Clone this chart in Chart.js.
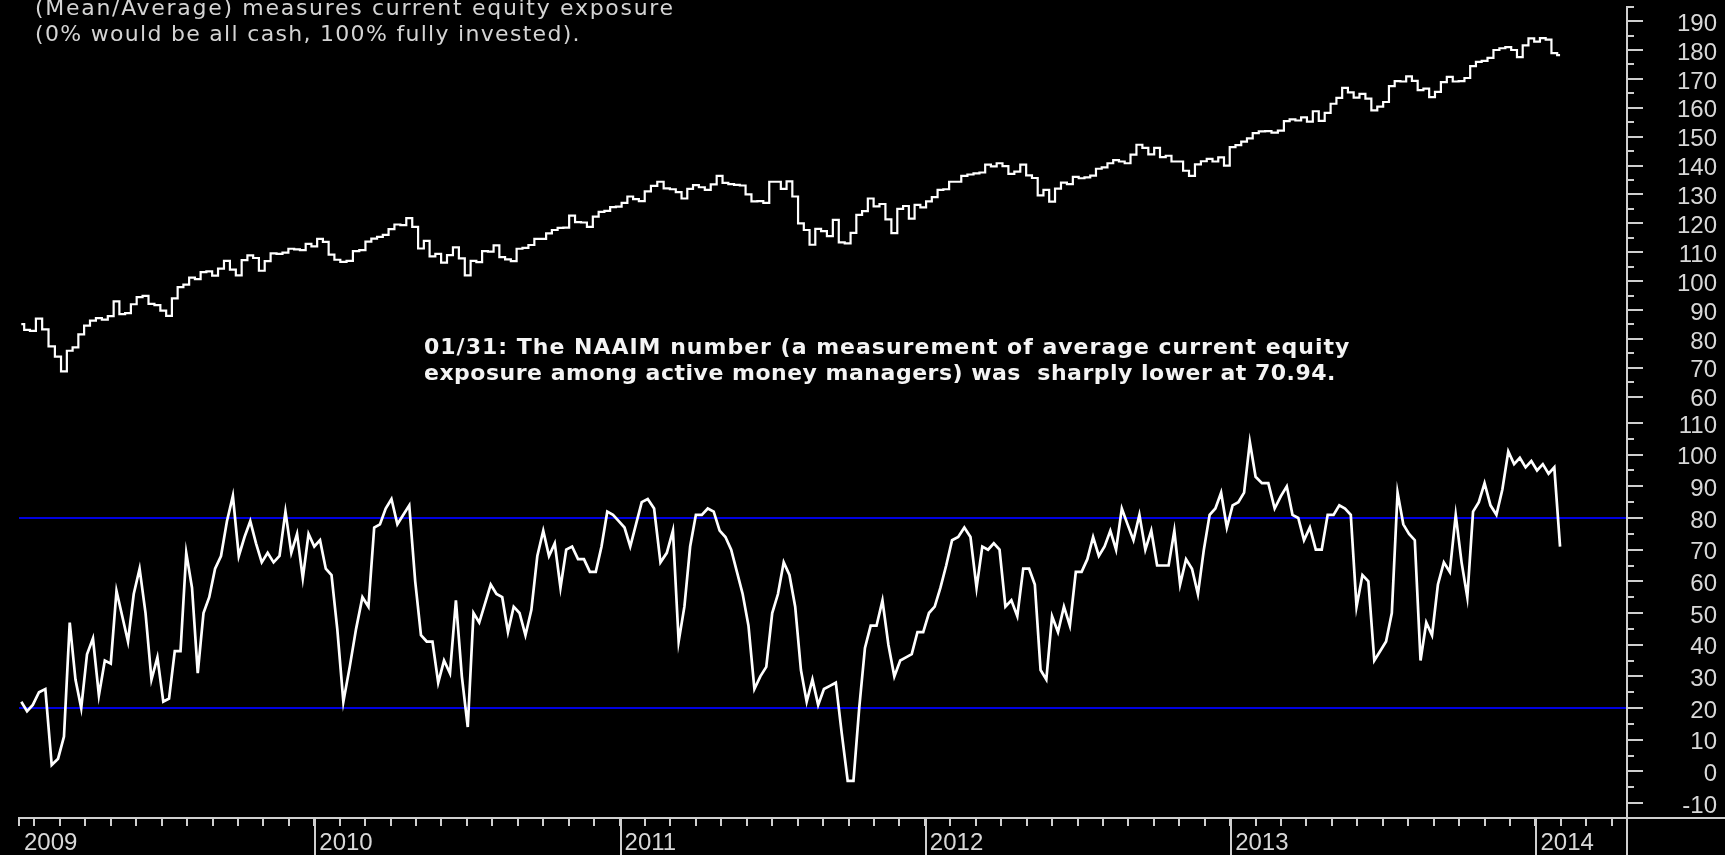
<!DOCTYPE html>
<html>
<head>
<meta charset="utf-8">
<title>NAAIM Exposure Index vs. SPY</title>
<script src="https://cdn.jsdelivr.net/npm/chart.js@4.4.1/dist/chart.umd.min.js"></script>
<style>
  html, body { margin: 0; padding: 0; background: #000; }
  #wrap { position: relative; width: 1725px; height: 855px; }
</style>
</head>
<body>
<div id="wrap"><canvas id="chart" width="1725" height="855"></canvas></div>
<script>
// ---- data -------------------------------------------------------------
// Weekly observations, one per Friday starting from this date.
const firstWeek = '2009-01-16';

// S&P 500 ETF weekly closes (upper panel).
const spyClose = [
  85.1, 83.1, 82.8, 87.0, 83.3, 77.4, 73.9, 68.8, 75.9, 77.1,
  81.6, 84.6, 86.3, 87.2, 86.7, 87.9, 93.0, 88.6, 88.9, 92.0,
  94.5, 94.9, 92.1, 91.7, 89.8, 88.0, 94.0, 97.9, 98.8, 101.2,
  100.7, 103.1, 103.4, 101.9, 104.3, 107.0, 104.0, 102.0, 107.3, 108.9,
  108.0, 103.6, 106.9, 109.6, 109.4, 109.9, 111.2, 111.0, 110.7, 112.9,
  112.0,
  114.6, 113.6, 109.2, 107.4, 106.7, 107.0, 110.4, 110.7, 113.7, 114.7,
  115.3, 116.0, 118.0, 119.6, 119.4, 121.8, 118.8, 111.3, 113.9, 108.6,
  109.4, 106.4, 109.0, 111.7, 107.9, 102.0, 107.0, 106.6, 110.4, 110.2,
  112.4, 108.3, 107.5, 106.9, 111.2, 111.5, 112.5, 114.6, 114.6, 116.5,
  117.7, 118.4, 118.5, 122.7, 120.4, 120.3, 118.8, 122.3, 124.0, 124.3,
  125.6, 125.8,
  127.1, 129.3, 128.4, 127.7, 131.1, 133.0, 134.4, 132.1, 131.8, 130.8,
  128.6, 131.9, 133.2, 132.5, 131.6, 133.5, 136.4, 134.0, 133.6, 133.3,
  133.1, 130.0, 127.6, 127.7, 127.1, 134.4, 134.4, 131.9, 134.5, 129.3,
  120.0, 117.7, 112.6, 118.1, 117.3, 115.6, 121.2, 113.4, 113.1, 116.7,
  122.9, 124.2, 128.6, 125.9, 126.7, 121.4, 116.6, 125.0, 126.0, 121.6,
  126.4, 125.5,
  127.6, 129.1, 131.6, 131.8, 134.4, 134.4, 136.4, 136.9, 137.3, 137.6,
  140.3, 139.7, 140.8, 139.8, 137.1, 137.9, 140.3, 136.6, 135.7, 129.7,
  131.6, 127.5, 132.0, 134.1, 133.6, 136.1, 135.6, 135.9, 136.5, 138.9,
  139.4, 140.8, 141.9, 141.4, 140.8, 143.8, 147.2, 146.1, 143.9, 146.1,
  142.9, 143.4, 141.4, 141.4, 138.2, 136.4, 140.4, 141.5, 142.3, 141.4,
  142.8, 140.0,
  146.4, 147.1, 148.3, 149.4, 151.2, 151.8, 151.9, 151.4, 152.1, 155.4,
  156.0, 155.6, 156.7, 155.2, 158.8, 155.5, 158.2, 161.4, 163.4, 166.9,
  165.3, 163.5, 164.8, 163.2, 159.1, 160.4, 162.0, 167.5, 169.2, 169.1,
  170.9, 169.3, 166.1, 166.6, 163.7, 165.5, 168.9, 170.7, 169.1, 169.2,
  170.3, 174.4, 175.9, 176.2, 177.3, 180.0, 180.6, 181.0, 180.0, 177.5,
  181.6, 184.0,
  182.9, 184.1, 183.6, 178.9, 178.2
];

// NAAIM Exposure Index, weekly (lower panel).
const naaim = [
  22, 19, 21, 25, 26, 2, 4, 11, 47, 29,
  20, 37, 42, 24, 35, 34, 57, 49, 41, 56,
  64, 50, 29, 36, 22, 23, 38, 38, 69, 58,
  31, 50, 55, 64, 68, 79, 87, 68, 74, 79,
  72, 66, 69, 66, 68, 82, 69, 75, 61, 75,
  71, 73, 64, 62, 45, 22, 33, 45, 55, 52,
  77, 78, 83, 86, 78, 81, 84, 60, 43, 41,
  41, 28, 35, 31, 54, 30, 14, 50, 47, 53,
  59, 56, 55, 44, 52, 50, 43, 51, 68, 76,
  68, 72, 58, 70, 71, 67, 67, 63, 63, 71,
  82, 81, 79, 77, 71, 78, 85, 86, 83, 66,
  69, 76, 41, 52, 71, 81, 81, 83, 82, 76,
  74, 70, 63, 56, 46, 26, 30, 33, 50, 56,
  66, 62, 52, 32, 22, 29, 21, 26, 27, 28,
  12, -3, -3, 20, 39, 46, 46, 54, 40, 30,
  35, 36, 37, 44, 44, 50, 52, 58, 65, 73,
  74, 77, 74, 58, 71, 70, 72, 70, 52, 54,
  49, 64, 64, 59, 32, 29, 49, 44, 52, 46,
  63, 63, 67, 74, 68, 71, 76, 70, 83, 78,
  73, 81, 70, 76, 65, 65, 65, 76, 59, 67,
  64, 56, 70, 81, 83, 88, 77, 84, 85, 88,
  104, 93, 91, 91, 83, 87, 90, 81, 80, 73,
  77, 70, 70, 81, 81, 84, 83, 81, 52, 62,
  60, 35, 38, 41, 50, 88, 78, 75, 73, 35,
  47, 43, 59, 66, 63, 81, 66, 55, 82, 85,
  91, 84, 81, 89, 101, 97, 99, 96, 98, 95,
  97, 94, 96, 70.94
];

// Overbought / oversold reference levels on the exposure panel.
const bandLevels = [20, 80];

// Axis labels and tick values.
const yearLabels = ['2009', '2010', '2011', '2012', '2013', '2014'];
const priceTicks = [60, 70, 80, 90, 100, 110, 120, 130, 140, 150, 160, 170, 180, 190];
const exposureTicks = [-10, 0, 10, 20, 30, 40, 50, 60, 70, 80, 90, 100, 110];

// Captions.
const headerLines = [
  '(Mean/Average) measures current equity exposure',
  '(0% would be all cash, 100% fully invested).'
];
const noteLines = [
  '01/31: The NAAIM number (a measurement of average current equity',
  'exposure among active money managers) was  sharply lower at 70.94.'
];

// ---- helpers ----------------------------------------------------------
// Position along the x axis, in months since January 2009.
function monthPos(date) {
  const y = date.getUTCFullYear(), m = date.getUTCMonth(), d = date.getUTCDate();
  const dim = new Date(Date.UTC(y, m + 1, 0)).getUTCDate();
  return (y - 2009) * 12 + m + (d - 1) / dim;
}
const t0 = Date.parse(firstWeek + 'T00:00:00Z');
const weekX = spyClose.map((_, i) => monthPos(new Date(t0 + i * 7 * 86400000)));

const X_MIN = 0.393, X_MAX = 63.56;
const AXIS = '#cfcfcf';
const LABEL = '#d8d8d8';
const tickFont = { family: 'Liberation Sans', size: 24 };

// Keep label overflow from shrinking the plot area.
function noOverflow(scale) {
  scale.paddingTop = 0; scale.paddingBottom = 0;
  scale.paddingLeft = 0; scale.paddingRight = 0;
}

// ---- decorations drawn on top of the chart ----------------------------
const framePlugin = {
  id: 'frame',
  afterDraw(chart) {
    const { ctx, chartArea, width, height } = chart;
    const xs = chart.scales.x;
    ctx.save();
    ctx.strokeStyle = AXIS;
    ctx.lineWidth = 2;
    ctx.beginPath();
    // horizontal time axis runs through to the right edge
    ctx.moveTo(chartArea.left, chartArea.bottom + 1);
    ctx.lineTo(width, chartArea.bottom + 1);
    // vertical value axis runs down past the time axis
    ctx.moveTo(chartArea.right + 1, 6);
    ctx.lineTo(chartArea.right + 1, height);
    // half-step ticks on both value scales
    [['yTop', priceTicks], ['yLow', exposureTicks]].forEach(([id, ticks]) => {
      const s = chart.scales[id];
      const minors = [ticks[0] - 5].concat(ticks.map(v => v + 5));
      minors.forEach(v => {
        if (v < s.min || v > s.max) return;
        const y = Math.round(s.getPixelForValue(v));
        ctx.moveTo(chartArea.right + 1, y);
        ctx.lineTo(chartArea.right + 8, y);
      });
    });
    // year separators drop from the time axis to the bottom
    xs.ticks.forEach(t => {
      if (Number.isInteger(t.value) && t.value % 12 === 0) {
        const x = Math.round(xs.getPixelForValue(t.value)) + 1;
        ctx.moveTo(x, chartArea.bottom);
        ctx.lineTo(x, height);
      }
    });
    ctx.stroke();

    // captions
    ctx.textBaseline = 'middle';
    ctx.textAlign = 'left';
    ctx.fillStyle = '#d4d4d4';
    ctx.font = '22px "DejaVu Sans"';
    [1.7, 1.3].forEach((sp, i) => {
      ctx.letterSpacing = sp + 'px';
      ctx.fillText(headerLines[i], 35, 9 + i * 26);
    });
    ctx.fillStyle = '#f4f4f4';
    ctx.font = 'bold 22px "DejaVu Sans"';
    [1, 0.5].forEach((sp, i) => {
      ctx.letterSpacing = sp + 'px';
      ctx.fillText(noteLines[i], 424, 348 + i * 26);
    });
    ctx.restore();
  }
};

// ---- chart ------------------------------------------------------------
// Labels are right-aligned against the scale's outer edge.
const valueAxis = (stackWeight, min, max, ticks) => ({
  type: 'linear',
  position: 'right',
  stack: 'panels',
  stackWeight,
  min, max,
  afterBuildTicks(scale) { scale.ticks = ticks.map(v => ({ value: v })); },
  afterFit(scale) { scale.width = 91; noOverflow(scale); },
  grid: { drawOnChartArea: false, drawTicks: true, tickLength: 17, color: AXIS, lineWidth: 2 },
  border: { display: false },
  ticks: {
    autoSkip: false, crossAlign: 'far', padding: 8, labelOffset: 3,
    color: LABEL, font: tickFont,
    callback: v => String(v)
  }
});

new Chart(document.getElementById('chart'), {
  type: 'line',
  data: {
    datasets: [
      {
        label: 'NAAIM',
        data: naaim.map((v, i) => ({ x: weekX[i], y: v })),
        yAxisID: 'yLow',
        borderColor: '#ffffff',
        borderWidth: 2.7,
        pointRadius: 0,
        tension: 0,
        order: 1
      },
      {
        label: 'SPY',
        data: spyClose.map((v, i) => ({ x: weekX[i], y: v })),
        yAxisID: 'yTop',
        borderColor: '#ffffff',
        borderWidth: 2.2,
        pointRadius: 0,
        stepped: 'middle',
        order: 1
      },
      ...bandLevels.map(lvl => ({
        label: 'level ' + lvl,
        data: [{ x: X_MIN, y: lvl }, { x: X_MAX, y: lvl }],
        yAxisID: 'yLow',
        borderColor: '#0000e0',
        borderWidth: 2,
        pointRadius: 0,
        order: 2
      }))
    ]
  },
  options: {
    responsive: false,
    animation: false,
    devicePixelRatio: 1,
    layout: { padding: { left: 19, top: 0, right: 8, bottom: 0 } },
    plugins: { legend: { display: false }, tooltip: { enabled: false } },
    scales: {
      x: {
        type: 'linear',
        position: 'bottom',
        min: X_MIN,
        max: X_MAX,
        afterBuildTicks(scale) {
          const t = [{ value: scale.min }];
          for (let m = Math.ceil(scale.min); m <= scale.max; m++) t.push({ value: m });
          scale.ticks = t;
        },
        afterFit(scale) { scale.height = 38; noOverflow(scale); },
        grid: { drawOnChartArea: false, drawTicks: true, tickLength: 9, color: AXIS, lineWidth: 2 },
        border: { display: false },
        ticks: {
          autoSkip: false, maxRotation: 0, align: 'start', labelOffset: 5, padding: 3,
          color: LABEL, font: tickFont,
          callback: (v, i) => i === 0 ? yearLabels[0] : (v % 12 === 0 ? yearLabels[v / 12] : '')
        }
      },
      yTop: valueAxis(410, 55.4, 197.3, priceTicks),
      yLow: valueAxis(407, -14.4, 114.1, exposureTicks)
    }
  },
  plugins: [framePlugin]
});
</script>
</body>
</html>
